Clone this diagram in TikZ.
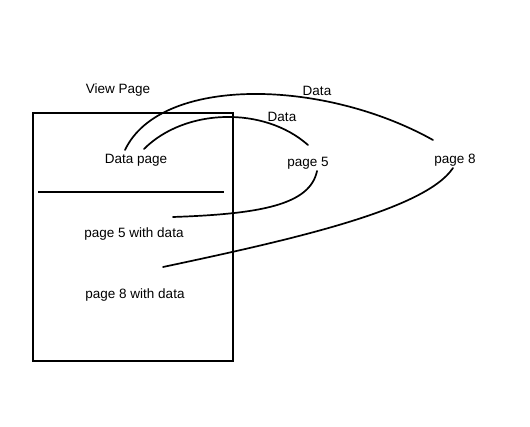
\documentclass[tikz,border=0pt]{standalone}
\usepackage{fontspec}
\setmainfont{Liberation Sans}
\begin{document}
\begin{tikzpicture}[x=1pt,y=-1pt,
  lbl/.style={inner sep=0pt,font=\fontsize{13.5}{15}\selectfont},
  wire/.style={line width=1.7pt,line cap=round}]
\useasboundingbox (0,0) rectangle (530,427);
% box
\draw[line width=1.7pt] (33,113) rectangle (233,361);
\coordinate (sepL) at (38,192);
\coordinate (sepR) at (224,192);
\draw[line width=1.7pt] (sepL) -- (sepR);
% labels
\node[lbl] (view) at (118,90) {View Page};
\node[lbl] (dpage) at (136,160) {Data page};
\node[lbl] (p5) at (308,163) {page 5};
\node[lbl] (p8) at (455,160) {page 8};
\node[lbl] (data1) at (317,91) {Data};
\node[lbl] (data2) at (282,117) {Data};
\node[lbl] (p5d) at (134,234) {page 5 with data};
\node[lbl] (p8d) at (135,295) {page 8 with data};
% endpoints
\coordinate (a1) at (125,150);
\coordinate (a2) at (433,140);
\coordinate (b1) at (144,149);
\coordinate (b2) at (308,145);
\coordinate (c1) at (317,171);
\coordinate (c2) at (173,217);
\coordinate (d1) at (453,168);
\coordinate (d2) at (163,267);
% curves
\draw[wire] (a1) .. controls (160,76) and (322,78) .. (a2);
\draw[wire] (b1) .. controls (185,108) and (264,106) .. (b2);
\draw[wire] (c1) .. controls (310,205) and (260,214) .. (c2);
\draw[wire] (d1) .. controls (425,210) and (290,240) .. (d2);
\end{tikzpicture}
\end{document}
